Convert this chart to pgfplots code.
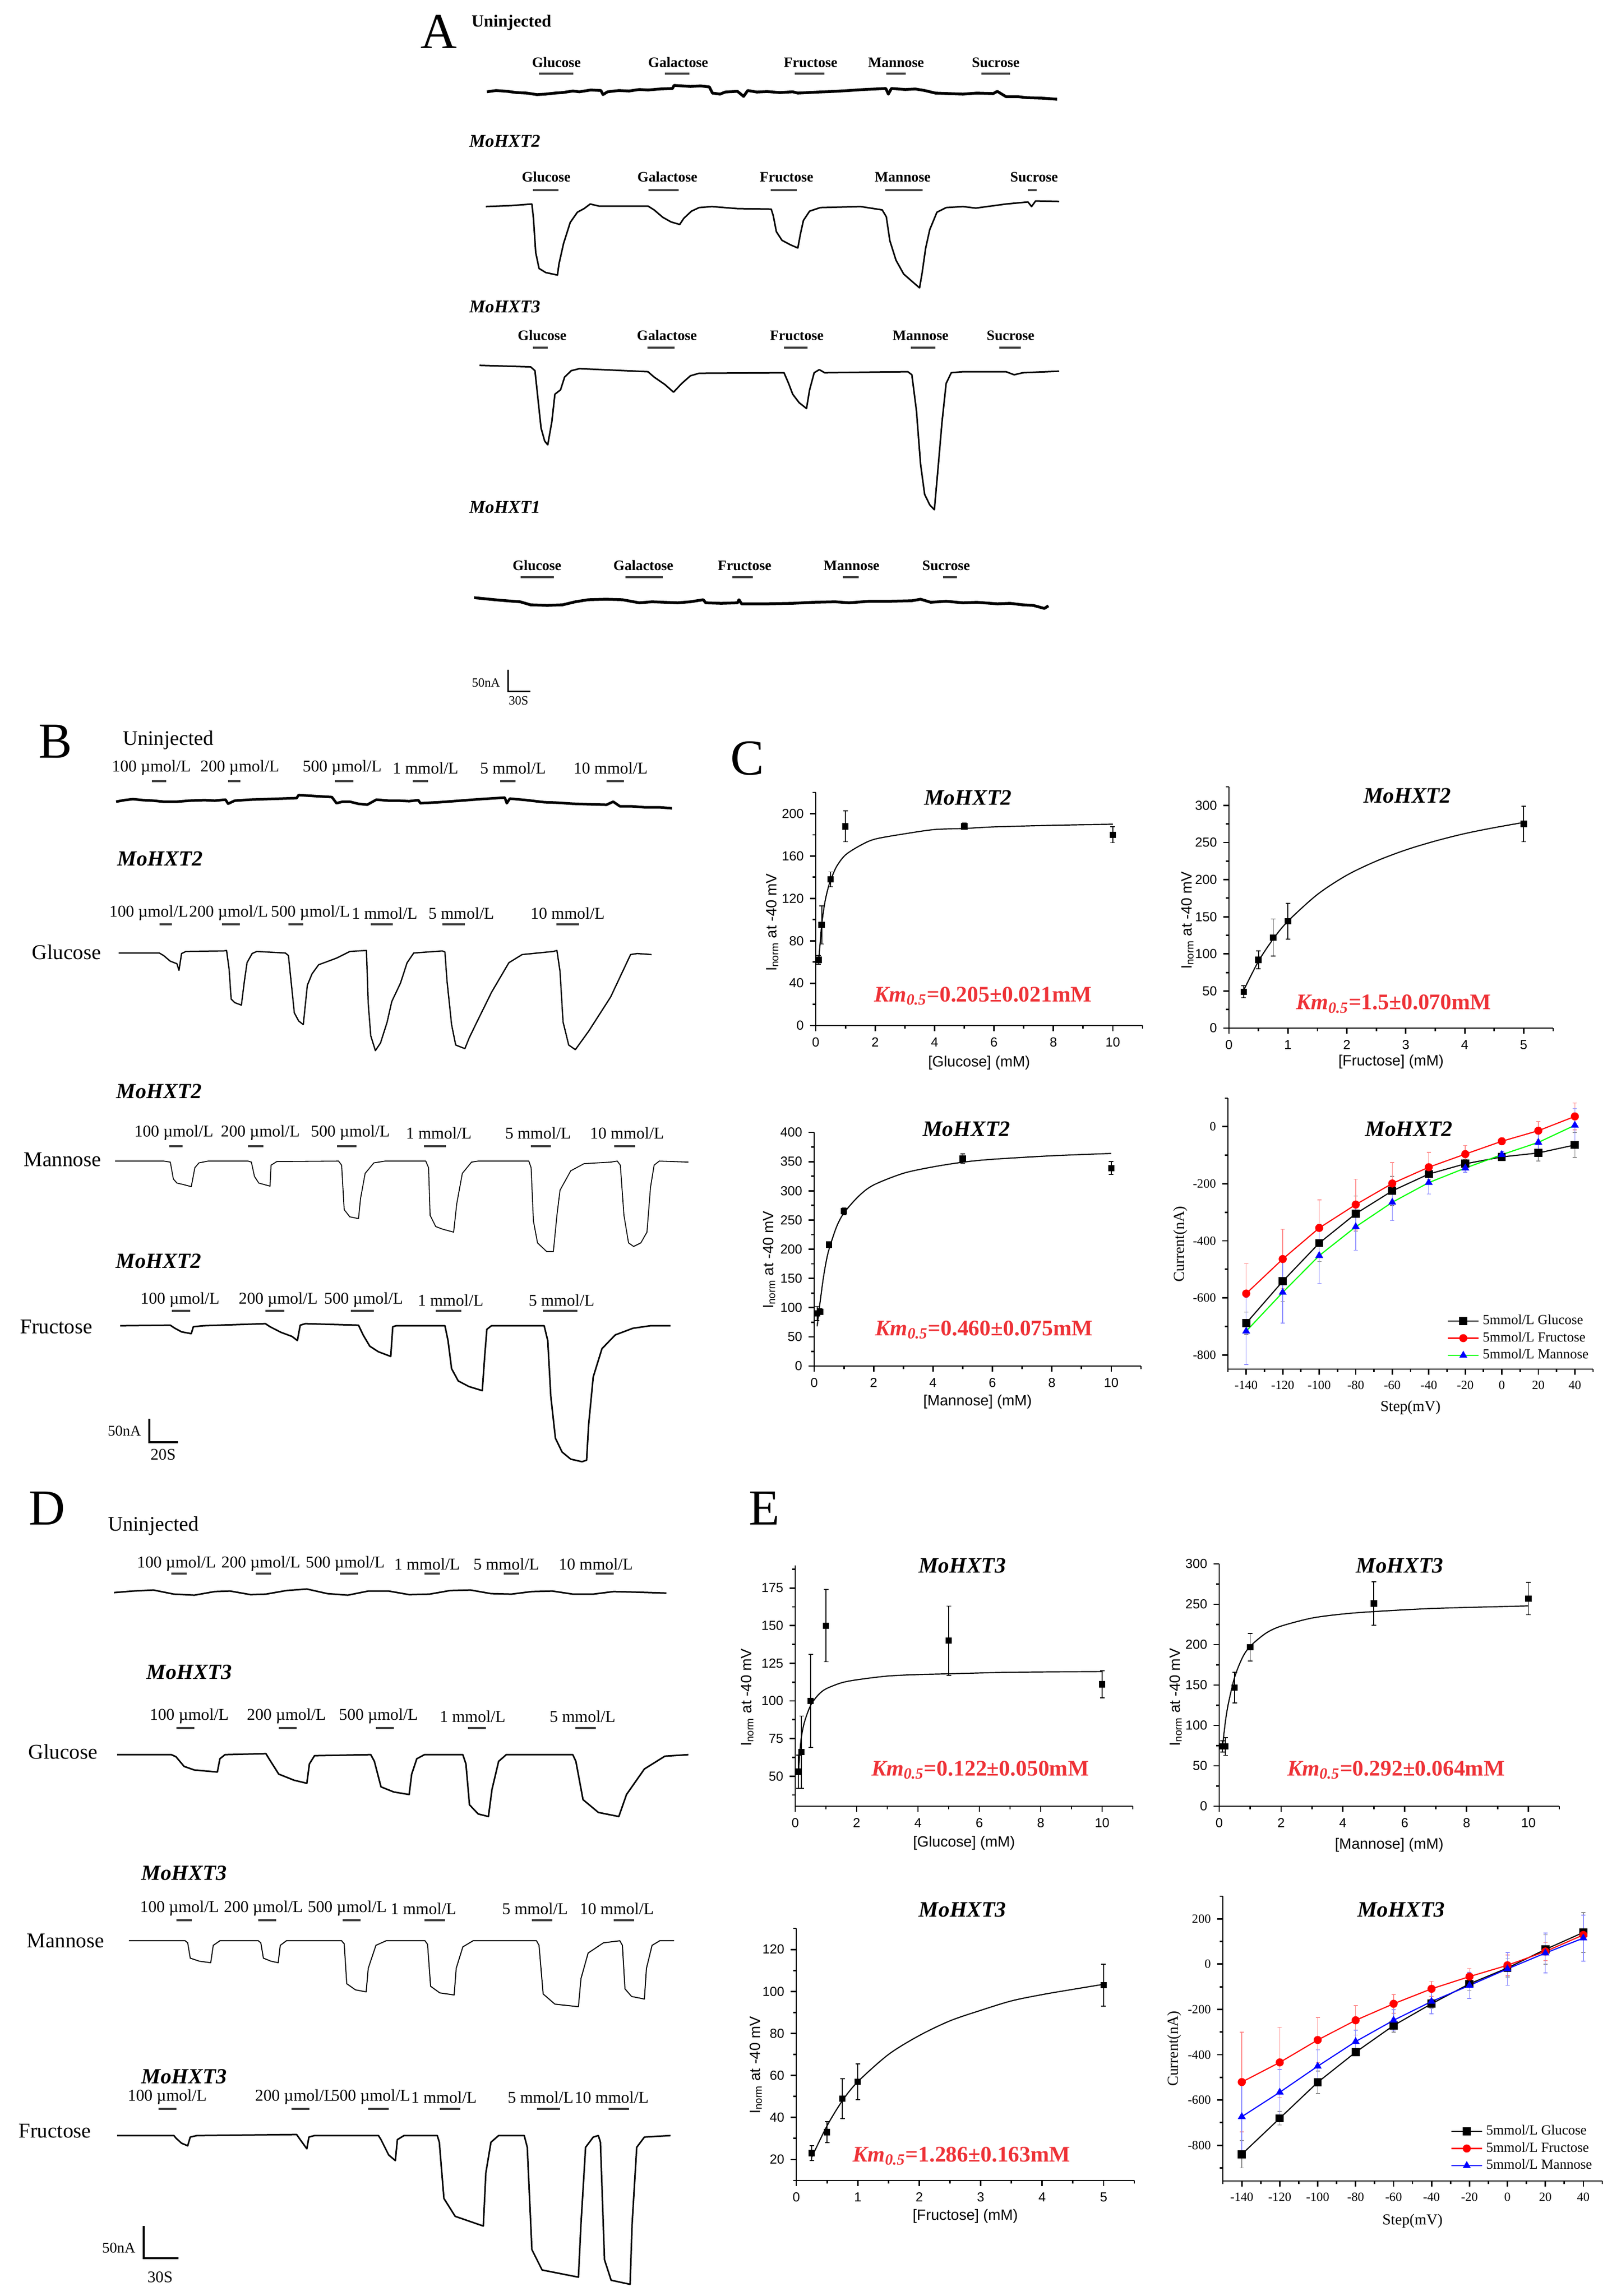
\documentclass[border=0pt]{standalone}
\usepackage{fontspec}
\setmainfont{Liberation Serif}
\setsansfont{Liberation Sans}
\usepackage{pgfplots}
\pgfplotsset{compat=1.18}
\definecolor{kmred}{RGB}{238,50,55}

\newcommand{\fs}[1]{\fontsize{#1}{#1}\selectfont}
\newcommand{\stim}[3]{\addplot[stimbar] coordinates {(#1,#3) (#2,#3)};}

\tikzset{
  alab/.style={font=\bfseries\fs{8}},
  blab/.style={font=\fs{9.2}},
  gene/.style={font=\bfseries\itshape\fs{10}},
  geneb/.style={font=\bfseries\itshape\fs{12}},
  side/.style={font=\fs{11.7}},
  letter/.style={font=\fs{28}},
  ptitle/.style={font=\bfseries\itshape\fs{12.3}},
  km/.style={font=\bfseries\fs{12.4}, text=kmred},
}

\pgfplotsset{
  canvas/.style={scale only axis, width=31.51cm, height=44.91cm,
    xmin=0, xmax=3151, ymin=0, ymax=4491, y dir=reverse,
    hide axis, clip=false, at={(0cm,0cm)}, anchor=north west},
  stimbar/.style={line width=0.42mm, black!75},
  trace/.style={black, line width=#1, line join=round},
  kin/.style={scale only axis, axis lines=left,
    axis line style={-, line width=0.28mm},
    tick style={line width=0.28mm, black}, tick align=outside,
    major tick length=1.1mm, minor tick length=0.6mm,
    ticklabel style={font=\sffamily\fs{7.3}},
    /pgf/number format/assume math mode=true,
    label style={font=\sffamily\fs{8.3}}, clip=false},
  kinpts/.style={black, only marks, mark=square*, mark size=0.55mm,
    error bars/.cd, y dir=both, y explicit,
    error bar style={line width=0.18mm, black},
    error mark options={rotate=90, black, mark size=0.45mm, line width=0.18mm}},
  kinfit/.style={black, line width=0.22mm, smooth, no marks},
  iv/.style={scale only axis, axis lines=left,
    axis line style={-, line width=0.28mm},
    tick style={line width=0.28mm, black}, tick align=outside,
    major tick length=1.1mm, minor tick length=0.6mm,
    ticklabel style={font=\fs{7}},
    /pgf/number format/assume math mode=true,
    label style={font=\fs{8.5}}, clip=false,
    xmin=-150, xmax=50, xtick={-140,-120,...,40}, minor xtick={-150,-130,...,50},
    legend style={draw=none, fill=none, font=\fs{7.7}, inner sep=0pt, row sep=-0.45mm},
    legend cell align=left},
  ivs/.style n args={3}{#1, line width=0.22mm, mark=#2, mark size=0.68mm,
    mark options={#3, fill=#3, solid},
    error bars/.cd, y dir=both, y explicit,
    error bar style={line width=0.15mm, #3!45},
    error mark options={rotate=90, #3!45, mark size=0.4mm, line width=0.15mm}},
}

\begin{document}
\begin{tikzpicture}
\path[use as bounding box] (0,0) rectangle (31.51cm,-44.91cm);

%% ---------------- traces and labels (A, B, D) ----------------
\begin{axis}[canvas]
% ---- A
\node[letter] at (858,62) {A};
\node[font=\bfseries\fs{9.5}] at (1000,44) {Uninjected};
\node[alab] at (1088,122) {Glucose};
\node[alab] at (1326,122) {Galactose};
\node[alab] at (1585,122) {Fructose};
\node[alab] at (1752,122) {Mannose};
\node[alab] at (1947,122) {Sucrose};
\stim{1054}{1121}{144}\stim{1300}{1348}{144}\stim{1554}{1612}{144}\stim{1733}{1771}{144}\stim{1919}{1975}{144}
\addplot[trace=0.55mm] coordinates {(952,179.5) (970,177) (992,178.6) (1010,181) (1030,182) (1050,185) (1067,184) (1085,182) (1100,181) (1120,178) (1133,179.5) (1155,176) (1175,177) (1179,185) (1188,179.5) (1210,177) (1230,178) (1250,175) (1267,176) (1290,174) (1315,173) (1318,167) (1350,169) (1370,168) (1387,170) (1393,182) (1408,184) (1418,180) (1425,179.5) (1442,178.6) (1454,188.5) (1462,177) (1480,180) (1500,179) (1525,181) (1550,179.5) (1560,182) (1580,181) (1600,180) (1633,178.6) (1660,177) (1690,175) (1712,174) (1732,173) (1737,184) (1743,173) (1770,175) (1790,174) (1808,177) (1829,182) (1855,183) (1883,184) (1910,182) (1942,183) (1950,178.6) (1967,189) (1990,189) (2008,191) (2040,192) (2067,194)};

\node[gene] at (987,276) {MoHXT2};
\node[alab] at (1068,346) {Glucose};
\node[alab] at (1305,346) {Galactose};
\node[alab] at (1538,346) {Fructose};
\node[alab] at (1765,346) {Mannose};
\node[alab] at (2022,346) {Sucrose};
\stim{1042}{1092}{372}\stim{1268}{1327}{372}\stim{1507}{1558}{372}\stim{1731}{1804}{372}\stim{2010}{2027}{372}
\addplot[trace=0.3mm] coordinates {(950,404) (1000,402) (1040,399) (1043,426) (1047.5,494) (1054,525) (1067,533) (1090,538) (1093,516) (1102,476) (1115,435) (1129,415) (1142,408) (1154,399) (1171,403) (1267,403) (1279,410.5) (1296,425) (1312,434) (1329,439) (1337,427) (1352,413) (1367,406) (1392,404) (1442,408) (1508,409) (1512,422) (1518,453) (1529,470) (1546,479) (1560,485) (1565,458) (1571,431) (1583,413) (1604,406) (1683,404) (1725,410.5) (1733,424) (1740,471) (1752,509) (1767,536) (1783,550) (1798,563) (1803,534) (1810,485) (1818,449) (1832,415) (1850,406) (1883,404) (1908,407) (1967,399) (2010,395) (2017,404) (2025,393) (2071,394)};

\node[gene] at (987,600) {MoHXT3};
\node[alab] at (1060,656) {Glucose};
\node[alab] at (1304,656) {Galactose};
\node[alab] at (1558,656) {Fructose};
\node[alab] at (1800,656) {Mannose};
\node[alab] at (1976,656) {Sucrose};
\stim{1042}{1071}{680}\stim{1266}{1319}{680}\stim{1533}{1579}{680}\stim{1781}{1829}{680}\stim{1954}{1996}{680}
\addplot[trace=0.3mm] coordinates {(937.5,714.6) (1037.5,717.5) (1046,725) (1050,762.5) (1058,837.5) (1065,862.5) (1071,870) (1079,825) (1085,771) (1096,762.5) (1104,737.5) (1117,725) (1133,721) (1267,727) (1279,737.5) (1300,752) (1317,767) (1333,750) (1350,735) (1367,730) (1533,729) (1542,750) (1550,771) (1562.5,787.5) (1577,799) (1583,762.5) (1592,729) (1602,723) (1612.5,729) (1775,727) (1783,733) (1792,804) (1800,908) (1808,967) (1818,987.5) (1827,997) (1833,929) (1842,825) (1850,750) (1860,729) (1883,727) (1967,727) (1983,733) (2000,729) (2071,726)};

\node[gene] at (987,992) {MoHXT1};
\node[alab] at (1050,1106) {Glucose};
\node[alab] at (1258,1106) {Galactose};
\node[alab] at (1456,1106) {Fructose};
\node[alab] at (1665,1106) {Mannose};
\node[alab] at (1850,1106) {Sucrose};
\stim{1018}{1083}{1129}\stim{1223}{1296}{1129}\stim{1432}{1472}{1129}\stim{1648}{1679}{1129}\stim{1844}{1871}{1129}
\addplot[trace=0.55mm] coordinates {(927,1169) (947,1171) (967,1173) (990,1175) (1017,1177) (1037.5,1183) (1070,1184) (1100,1183) (1125,1177) (1150,1173) (1185,1172) (1217,1173) (1250,1179) (1275,1177) (1300,1178) (1325,1179) (1350,1177) (1375,1173) (1380,1179) (1410,1180) (1442,1179) (1445,1173) (1450,1181) (1500,1181) (1550,1180) (1590,1178) (1633,1177) (1660,1179) (1700,1176) (1740,1176) (1783,1175) (1800,1172) (1820,1178) (1850,1176) (1883,1179) (1910,1178) (1950,1181) (1975,1180) (2000,1183) (2020,1184) (2042,1190) (2050,1185)};
\node[font=\fs{7}, anchor=east] at (990,1335) {50nA};
\addplot[black, line width=0.3mm] coordinates {(993,1310) (993,1352) (1037,1352)};
\node[font=\fs{7}] at (1014,1370) {30S};

% ---- B
\node[letter] at (108,1450) {B};
\node[font=\fs{11.5}] at (329,1448) {Uninjected};
\node[blab] at (296,1502) {100 µmol/L};
\node[blab] at (469,1502) {200 µmol/L};
\node[blab] at (669,1502) {500 µmol/L};
\node[blab] at (832,1502) {1 mmol/L};
\node[blab] at (1003,1502) {5 mmol/L};
\node[blab] at (1194,1502) {10 mmol/L};
\stim{297}{325}{1528}\stim{446}{470}{1528}\stim{655}{691}{1528}\stim{807}{837}{1528}\stim{978}{1008}{1528}\stim{1186}{1220}{1528}
\addplot[trace=0.5mm] coordinates {(227,1568) (243,1565) (260,1563) (280,1565) (300,1566) (320,1568) (346,1568) (370,1566) (400,1565) (420,1566) (441,1564) (446,1572) (459,1566) (490,1564) (520,1563) (550,1562) (580,1561) (584,1555) (615,1557) (649,1559) (658,1571) (670,1568) (684,1568) (700,1572) (718,1574) (736,1564) (760,1566) (780,1566) (800,1567) (818,1565) (822,1571) (860,1569) (900,1566) (940,1563) (987,1560) (991,1571) (997,1562) (1030,1565) (1064,1569) (1090,1570) (1120,1572) (1150,1573) (1186,1574) (1199,1568) (1212,1577) (1235,1577) (1260,1579) (1290,1579) (1314,1581)};

\node[geneb] at (313,1680) {MoHXT2};
\node[blab] at (291,1786) {100 µmol/L};
\node[blab] at (447,1786) {200 µmol/L};
\node[blab] at (607,1786) {500 µmol/L};
\node[blab] at (752,1786) {1 mmol/L};
\node[blab] at (902,1786) {5 mmol/L};
\node[blab] at (1110,1786) {10 mmol/L};
\stim{312}{336}{1808}\stim{434}{469}{1808}\stim{564}{593}{1808}\stim{725}{768}{1808}\stim{865}{909}{1808}\stim{1088}{1132}{1808}
\node[side] at (130,1862) {Glucose};
\addplot[trace=0.25mm] coordinates {(232,1864) (311.5,1864) (320,1869) (333,1880) (346,1885) (350,1898) (355,1865) (363.5,1861) (437,1860) (443,1859) (448,1896) (452,1954) (459,1961) (472,1966) (478,1918) (483,1883) (493,1865) (502,1861) (558,1864) (564,1869) (569,1918) (575.5,1981) (584,1997) (593,2004) (601,1927) (610,1905) (623,1887) (658,1874) (684,1861) (716.5,1859) (720,1963) (725,2026) (734,2055) (744,2040) (757,1999) (766,1959) (783,1923) (796,1883) (809,1864) (865,1860) (870,1862) (874,1918) (883,2004) (891,2044) (909,2051) (917,2031) (930,2004) (961,1941) (995,1883) (1021,1867) (1082,1861) (1089,1859) (1095,1900) (1101,1999) (1112,2044) (1125,2053) (1151,2017) (1194,1950) (1233,1867) (1246,1865) (1274,1867)};

\node[geneb] at (311,2135) {MoHXT2};
\node[blab] at (340,2216) {100 µmol/L};
\node[blab] at (509,2216) {200 µmol/L};
\node[blab] at (685,2216) {500 µmol/L};
\node[blab] at (858,2216) {1 mmol/L};
\node[blab] at (1052,2216) {5 mmol/L};
\node[blab] at (1226,2216) {10 mmol/L};
\stim{331}{357}{2242}\stim{485}{515}{2242}\stim{659}{697}{2242}\stim{829}{872}{2242}\stim{1038}{1077}{2242}\stim{1201}{1242}{2242}
\node[side] at (122,2268) {Mannose};
\addplot[trace=0.18mm] coordinates {(225,2271) (320,2271) (333,2273) (339,2306) (346,2314) (359,2317) (374,2321) (381,2284) (389,2274.5) (407,2271) (485,2271) (491.5,2273) (497.6,2301) (506,2314) (528,2320) (530,2279) (541,2272) (662,2271) (668,2279) (673,2366) (684,2380) (701,2383.5) (705,2344) (714,2295) (731,2274.5) (753,2271) (832.5,2271) (838,2284) (841,2377) (852,2399) (865,2404) (887,2410) (893,2355) (904,2295) (922,2273) (935,2271) (1034,2271) (1038.5,2284) (1043,2388) (1051,2431) (1069,2448) (1082,2448) (1089,2377) (1095,2328) (1116,2290) (1142,2276) (1194,2273) (1207,2271) (1213,2279) (1220,2377) (1229,2431) (1239,2438) (1253,2431) (1265,2410) (1272,2322) (1279,2279) (1289,2271) (1346,2273)};

\node[geneb] at (310,2467) {MoHXT2};
\node[blab] at (352,2543) {100 µmol/L};
\node[blab] at (544,2543) {200 µmol/L};
\node[blab] at (711,2543) {500 µmol/L};
\node[blab] at (881,2543) {1 mmol/L};
\node[blab] at (1098,2543) {5 mmol/L};
\stim{336}{372}{2564}\stim{519}{556}{2564}\stim{686}{731}{2564}\stim{852}{902}{2564}\stim{1062}{1129}{2564}
\node[side] at (110,2595) {Fructose};
\addplot[trace=0.3mm] coordinates {(235,2593) (333,2592) (342,2598) (355,2605) (374,2608.5) (378,2595) (398,2593) (519,2589) (528,2595) (549.5,2606) (571,2614) (581.5,2622) (587,2592) (597,2589) (701,2592) (710,2611) (723,2633) (740,2644) (764,2653) (768,2595) (774.5,2593) (870,2593) (876,2622) (883,2677) (896,2701) (917,2712) (943,2720) (948,2649) (952,2600) (961,2593) (1064,2593) (1071,2622) (1077,2731) (1086,2813) (1099,2840) (1116,2854) (1138,2859) (1147,2856) (1151,2786) (1160,2693) (1177,2638) (1203,2611) (1237.5,2598) (1272,2593) (1311,2593)};
\node[font=\fs{8.3}, anchor=east] at (288,2799) {50nA};
\addplot[black, line width=0.35mm] coordinates {(292,2775) (292,2821) (348,2821)};
\node[font=\fs{9}] at (319,2845) {20S};

% ---- C, D, E letters
\node[letter] at (1461,1483) {C};
\node[letter] at (92,2950) {D};
\node[letter] at (1495,2950) {E};

% ---- D
\node[font=\fs{11.5}] at (300,2985) {Uninjected};
\node[blab] at (345,3059) {100 µmol/L};
\node[blab] at (510,3059) {200 µmol/L};
\node[blab] at (675,3059) {500 µmol/L};
\node[blab] at (835,3059) {1 mmol/L};
\node[blab] at (990,3059) {5 mmol/L};
\node[blab] at (1165,3059) {10 mmol/L};
\stim{335}{365}{3078}\stim{500}{530}{3078}\stim{665}{700}{3078}\stim{830}{860}{3078}\stim{985}{1015}{3078}\stim{1165}{1200}{3078}
\addplot[trace=0.3mm] coordinates {(223,3115) (260,3112) (300,3110) (340,3118) (380,3120) (420,3113) (450,3112) (490,3119) (520,3118) (560,3111) (600,3108) (640,3117) (680,3120) (720,3112) (760,3112) (800,3119) (840,3118) (880,3111) (920,3110) (960,3117) (1000,3118) (1040,3113) (1080,3112) (1120,3118) (1160,3118) (1200,3113) (1240,3114) (1303,3116)};

\node[geneb] at (370,3271) {MoHXT3};
\node[blab] at (370,3357) {100 µmol/L};
\node[blab] at (560,3357) {200 µmol/L};
\node[blab] at (740,3357) {500 µmol/L};
\node[blab] at (924,3357) {1 mmol/L};
\node[blab] at (1139,3357) {5 mmol/L};
\stim{345}{380}{3380}\stim{545}{580}{3380}\stim{735}{770}{3380}\stim{915}{950}{3380}\stim{1125}{1165}{3380}
\node[side] at (123,3426) {Glucose};
\addplot[trace=0.3mm] coordinates {(229,3432) (335,3432) (344,3436) (360,3455) (380,3462) (425,3466) (430,3440) (440,3432) (520,3430) (526,3440) (545,3470) (575,3482) (600,3488) (605,3450) (615,3434) (725,3432) (732,3445) (745,3495) (770,3505) (800,3510) (805,3470) (815,3440) (830,3432) (905,3432) (911,3450) (918,3530) (935,3548) (955,3553) (962,3500) (975,3445) (990,3432) (1120,3432) (1126,3445) (1140,3520) (1170,3545) (1210,3553) (1225,3510) (1260,3460) (1300,3435) (1346,3432)};

\node[geneb] at (360,3664) {MoHXT3};
\node[blab] at (351,3733) {100 µmol/L};
\node[blab] at (515,3733) {200 µmol/L};
\node[blab] at (679,3733) {500 µmol/L};
\node[blab] at (828,3733) {1 mmol/L};
\node[blab] at (1046,3733) {5 mmol/L};
\node[blab] at (1206,3733) {10 mmol/L};
\stim{345}{375}{3756}\stim{505}{540}{3756}\stim{670}{705}{3756}\stim{830}{870}{3756}\stim{1040}{1080}{3756}\stim{1200}{1240}{3756}
\node[side] at (128,3796) {Mannose};
\addplot[trace=0.2mm] coordinates {(252,3796) (362,3796) (367,3800) (372,3830) (390,3836) (412,3839) (417,3805) (430,3796) (505,3796) (510,3800) (515,3830) (530,3836) (544,3839) (548,3805) (560,3796) (668,3796) (673,3802) (678,3880) (695,3892) (716,3896) (720,3850) (735,3805) (755,3796) (831,3796) (836,3803) (842,3885) (860,3898) (888,3902) (892,3850) (905,3808) (925,3796) (1049,3796) (1054,3805) (1062,3900) (1085,3920) (1131,3925) (1136,3870) (1150,3820) (1180,3800) (1212,3796) (1217,3805) (1222,3890) (1235,3905) (1260,3910) (1264,3850) (1275,3805) (1290,3796) (1318,3796)};

\node[geneb] at (360,4062) {MoHXT3};
\node[blab] at (327,4102) {100 µmol/L};
\node[blab] at (576,4102) {200 µmol/L};
\node[blab] at (725,4102) {500 µmol/L};
\node[blab] at (868,4102) {1 mmol/L};
\node[blab] at (1057,4102) {5 mmol/L};
\node[blab] at (1196,4102) {10 mmol/L};
\stim{310}{345}{4125}\stim{570}{605}{4125}\stim{720}{760}{4125}\stim{860}{900}{4125}\stim{1050}{1095}{4125}\stim{1190}{1230}{4125}
\node[side] at (107,4168) {Fructose};
\addplot[trace=0.3mm] coordinates {(229,4177) (340,4177) (344,4182) (355,4192) (367,4197) (372,4180) (385,4177) (580,4175) (587,4185) (600,4203) (604,4180) (615,4177) (740,4177) (745,4185) (760,4215) (773,4226) (777,4185) (790,4177) (855,4177) (859,4190) (868,4300) (890,4335) (945,4354) (950,4250) (960,4190) (975,4177) (1025,4177) (1031,4200) (1040,4400) (1060,4440) (1131,4454) (1136,4350) (1145,4200) (1160,4180) (1170,4177) (1174,4190) (1182,4420) (1195,4460) (1232,4468) (1236,4350) (1245,4200) (1260,4180) (1311,4177)};
\node[font=\fs{8.3}, anchor=east] at (277,4397) {50nA};
\addplot[black, line width=0.35mm] coordinates {(281,4354) (281,4417) (349,4417)};
\node[font=\fs{9}] at (313,4454) {30S};
\end{axis}

%% ---------------- C1: MoHXT2 glucose ----------------
\begin{axis}[kin, at={(15.95cm,-20.06cm)}, anchor=south west, width=6.39cm, height=4.56cm,
  xmin=0, xmax=11, ymin=0, ymax=220, xtick={0,2,...,10}, minor xtick={1,3,...,11},
  ytick={0,40,...,200}, minor ytick={20,60,...,220},
  xlabel={[Glucose] (mM)}, ylabel={I\textsubscript{norm} at -40 mV},
  xlabel style={at={(axis description cs:0.5,-0.16)}, anchor=center},
  ylabel style={at={(axis description cs:-0.133,0.443)}, anchor=center}]
\addplot[kinfit] coordinates {(0.1,62) (0.15,78) (0.2,95) (0.3,115) (0.4,128) (0.5,137) (0.7,150) (1,161) (1.5,170) (2,176) (3,181) (4,185) (5,186) (6,187.5) (8,189) (10,190)};
\addplot[kinpts] coordinates {(0.1,62) +- (0,4) (0.2,95) +- (0,18) (0.5,138) +- (0,7) (1,188) +- (0,14.5) (5,188) +- (0,3) (10,180) +- (0,7.5)};
\node[ptitle] at (axis description cs:0.466,0.978) {MoHXT2};
\node[km] at (axis description cs:0.512,0.127) {\textit{Km}\textsubscript{\textit{0.5}}=0.205±0.021mM};
\end{axis}

%% ---------------- C2: MoHXT2 fructose ----------------
\begin{axis}[kin, at={(24.03cm,-20.11cm)}, anchor=south west, width=6.34cm, height=4.72cm,
  xmin=0, xmax=5.5, ymin=0, ymax=325, xtick={0,1,...,5}, minor xtick={0.5,1.5,...,5.5},
  ytick={0,50,...,300}, minor ytick={25,75,...,325},
  xlabel={[Fructose] (mM)}, ylabel={I\textsubscript{norm} at -40 mV},
  xlabel style={at={(axis description cs:0.5,-0.14)}, anchor=center},
  ylabel style={at={(axis description cs:-0.128,0.447)}, anchor=center}]
\addplot[kinfit] coordinates {(0.25,51) (0.5,90) (0.75,120) (1,144) (1.5,180) (2,206) (2.5,225) (3,240) (3.5,252) (4,262) (4.5,270) (5,277)};
\addplot[kinpts] coordinates {(0.25,49) +- (0,8) (0.5,92) +- (0,12) (0.75,122) +- (0,25) (1,144) +- (0,24) (5,275) +- (0,24)};
\node[ptitle] at (axis description cs:0.55,0.964) {MoHXT2};
\node[km] at (axis description cs:0.508,0.10) {\textit{Km}\textsubscript{\textit{0.5}}=1.5±0.070mM};
\end{axis}

%% ---------------- C3: MoHXT2 mannose ----------------
\begin{axis}[kin, at={(15.92cm,-26.72cm)}, anchor=south west, width=6.39cm, height=4.57cm,
  xmin=0, xmax=11, ymin=0, ymax=400, xtick={0,2,...,10}, minor xtick={1,3,...,11},
  ytick={0,50,...,400}, minor ytick={25,75,...,375},
  xlabel={[Mannose] (mM)}, ylabel={I\textsubscript{norm} at -40 mV},
  xlabel style={at={(axis description cs:0.5,-0.153)}, anchor=center},
  ylabel style={at={(axis description cs:-0.138,0.455)}, anchor=center}]
\addplot[kinfit] coordinates {(0.1,68) (0.15,90) (0.2,110) (0.3,148) (0.4,178) (0.5,200) (0.75,238) (1,262) (1.5,291) (2,310) (3,330) (4,341) (5,349) (6,354) (8,360) (10,364)};
\addplot[kinpts] coordinates {(0.1,90) +- (0,12) (0.2,93) +- (0,5) (0.5,208) +- (0,5) (1,265) +- (0,6) (5,355) +- (0,8) (10,339) +- (0,11)};
\node[ptitle] at (axis description cs:0.466,1.015) {MoHXT2};
\node[km] at (axis description cs:0.52,0.155) {\textit{Km}\textsubscript{\textit{0.5}}=0.460±0.075mM};
\end{axis}

%% ---------------- C4: MoHXT2 I-V ----------------
\begin{axis}[iv, at={(24.01cm,-26.78cm)}, anchor=south west, width=7.14cm, height=5.30cm,
  ymin=-850, ymax=100, ytick={-800,-600,...,0}, minor ytick={-700,-500,...,100},
  xlabel={Step(mV)}, ylabel={Current(nA)},
  xlabel style={at={(axis description cs:0.5,-0.142)}, anchor=center},
  ylabel style={at={(axis description cs:-0.13,0.462)}, anchor=center},
  legend style={at={(axis description cs:0.60,0.215)}, anchor=north west}]
\addplot[ivs={black}{square*}{black}] coordinates {(-140,-689) +- (0,39) (-120,-542) +- (0,70) (-100,-408) +- (0,65) (-80,-305) +- (0,62) (-60,-225) +- (0,51) (-40,-166) +- (0,20) (-20,-130) +- (0,15) (0,-106) +- (0,10) (20,-92) +- (0,28) (40,-64) +- (0,44)};
\addplot[ivs={red}{*}{red}] coordinates {(-140,-585) +- (0,105) (-120,-464) +- (0,104) (-100,-355) +- (0,98) (-80,-273) +- (0,89) (-60,-199) +- (0,73) (-40,-142) +- (0,52) (-20,-96) +- (0,30) (0,-51) +- (0,12) (20,-14) +- (0,32) (40,36) +- (0,47)};
\addplot[ivs={green}{triangle*}{blue}] coordinates {(-140,-717) +- (0,117) (-120,-581) +- (0,108) (-100,-452) +- (0,98) (-80,-351) +- (0,82) (-60,-265) +- (0,64) (-40,-196) +- (0,40) (-20,-145) +- (0,15) (0,-98) +- (0,12) (20,-55) +- (0,35) (40,5) +- (0,58)};
\legend{5mmol/L Glucose, 5mmol/L Fructose, 5mmol/L Mannose}
\node[ptitle] at (axis description cs:0.496,0.887) {MoHXT2};
\end{axis}

%% ---------------- E1: MoHXT3 glucose ----------------
\begin{axis}[kin, at={(15.55cm,-35.33cm)}, anchor=south west, width=6.60cm, height=4.71cm,
  xmin=0, xmax=11, ymin=30, ymax=190, xtick={0,2,...,10}, minor xtick={1,3,...,11},
  ytick={50,75,...,175}, minor ytick={37.5,62.5,...,187.5},
  xlabel={[Glucose] (mM)}, ylabel={I\textsubscript{norm} at -40 mV},
  xlabel style={at={(axis description cs:0.5,-0.153)}, anchor=center},
  ylabel style={at={(axis description cs:-0.142,0.452)}, anchor=center}]
\addplot[kinfit] coordinates {(0.1,52) (0.15,66) (0.2,76) (0.3,86) (0.5,97) (0.75,104) (1,108) (1.5,112) (2,114) (3,116.5) (4,117.5) (5,118) (7,119) (10,119.5)};
\addplot[kinpts] coordinates {(0.1,53) +- (0,11) (0.2,66) +- (0,24) (0.5,100) +- (0,31) (1,150) +- (0,24) (5,140) +- (0,23) (10,111) +- (0,9)};
\node[ptitle] at (axis description cs:0.495,1.0) {MoHXT3};
\node[km] at (axis description cs:0.548,0.151) {\textit{Km}\textsubscript{\textit{0.5}}=0.122±0.050mM};
\end{axis}

%% ---------------- E2: MoHXT3 mannose ----------------
\begin{axis}[kin, at={(23.84cm,-35.33cm)}, anchor=south west, width=6.65cm, height=4.74cm,
  xmin=0, xmax=11, ymin=0, ymax=300, xtick={0,2,...,10}, minor xtick={1,3,...,11},
  ytick={0,50,...,300}, minor ytick={25,75,...,275},
  xlabel={[Mannose] (mM)}, ylabel={I\textsubscript{norm} at -40 mV},
  xlabel style={at={(axis description cs:0.5,-0.16)}, anchor=center},
  ylabel style={at={(axis description cs:-0.128,0.45)}, anchor=center}]
\addplot[kinfit] coordinates {(0.1,72) (0.2,105) (0.3,128) (0.5,160) (0.75,184) (1,198) (1.5,214) (2,223) (3,233) (4,238) (5,241) (7,245) (10,248)};
\addplot[kinpts] coordinates {(0.1,74) +- (0,7) (0.2,74) +- (0,11) (0.5,147) +- (0,19) (1,197) +- (0,17) (5,251) +- (0,27) (10,257) +- (0,20)};
\node[ptitle] at (axis description cs:0.531,0.994) {MoHXT3};
\node[km] at (axis description cs:0.52,0.15) {\textit{Km}\textsubscript{\textit{0.5}}=0.292±0.064mM};
\end{axis}

%% ---------------- E3: MoHXT3 fructose ----------------
\begin{axis}[kin, at={(15.57cm,-42.65cm)}, anchor=south west, width=6.61cm, height=4.93cm,
  xmin=0, xmax=5.5, ymin=10, ymax=130, xtick={0,1,...,5}, minor xtick={0.5,1.5,...,5.5},
  ytick={20,40,...,120}, minor ytick={10,30,...,130},
  xlabel={[Fructose] (mM)}, ylabel={I\textsubscript{norm} at -40 mV},
  xlabel style={at={(axis description cs:0.5,-0.142)}, anchor=center},
  ylabel style={at={(axis description cs:-0.12,0.458)}, anchor=center}]
\addplot[kinfit] coordinates {(0.25,21) (0.5,36) (0.75,48) (1,57) (1.5,70) (2,79) (2.5,86) (3,91) (3.5,95.5) (4,98.5) (4.5,101) (5,103.4)};
\addplot[kinpts] coordinates {(0.25,23) +- (0,3.5) (0.5,33) +- (0,5) (0.75,49) +- (0,9.5) (1,57) +- (0,8.5) (5,103) +- (0,10)};
\node[ptitle] at (axis description cs:0.492,1.075) {MoHXT3};
\node[km] at (axis description cs:0.489,0.097) {\textit{Km}\textsubscript{\textit{0.5}}=1.286±0.163mM};
\end{axis}

%% ---------------- E4: MoHXT3 I-V ----------------
\begin{axis}[iv, at={(23.91cm,-42.66cm)}, anchor=south west, width=7.42cm, height=5.57cm,
  ymin=-958, ymax=300, ytick={-800,-600,...,200}, minor ytick={-900,-700,...,300},
  xlabel={Step(mV)}, ylabel={Current(nA)},
  xlabel style={at={(axis description cs:0.5,-0.14)}, anchor=center},
  ylabel style={at={(axis description cs:-0.128,0.465)}, anchor=center},
  legend style={at={(axis description cs:0.60,0.21)}, anchor=north west}]
\addplot[ivs={black}{square*}{black}] coordinates {(-140,-840) +- (0,60) (-120,-681) +- (0,30) (-100,-522) +- (0,50) (-80,-389) +- (0,12) (-60,-271) +- (0,30) (-40,-175) +- (0,20) (-20,-87) +- (0,30) (0,-17) +- (0,40) (20,65) +- (0,65) (40,140) +- (0,88)};
\addplot[ivs={red}{*}{red}] coordinates {(-140,-521) +- (0,220) (-120,-434) +- (0,155) (-100,-335) +- (0,100) (-80,-248) +- (0,65) (-60,-175) +- (0,42) (-40,-109) +- (0,33) (-20,-55) +- (0,36) (0,-5) +- (0,45) (20,56) +- (0,40) (40,129) +- (0,22)};
\addplot[ivs={blue}{triangle*}{blue}] coordinates {(-140,-674) +- (0,155) (-120,-566) +- (0,100) (-100,-451) +- (0,72) (-80,-342) +- (0,50) (-60,-248) +- (0,47) (-40,-165) +- (0,54) (-20,-94) +- (0,58) (0,-21) +- (0,73) (20,49) +- (0,88) (40,115) +- (0,102)};
\legend{5mmol/L Glucose, 5mmol/L Fructose, 5mmol/L Mannose}
\node[ptitle] at (axis description cs:0.47,0.953) {MoHXT3};
\end{axis}
\end{tikzpicture}
\end{document}
